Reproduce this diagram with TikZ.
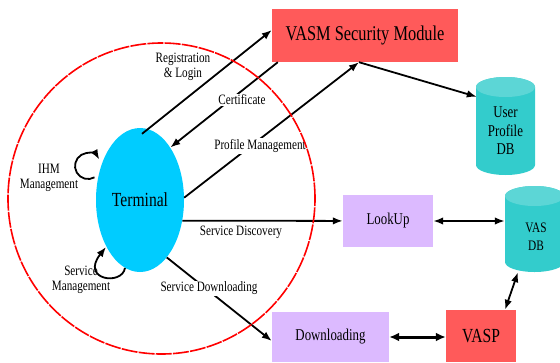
\documentclass[tikz,border=0pt]{standalone}
\usepackage{fontspec}
\setmainfont{Liberation Serif}
\newfontfamily\narrow[FakeStretch=0.78]{Liberation Serif}
\usetikzlibrary{arrows.meta,shapes.geometric,calc}

\definecolor{boxred}{RGB}{255,90,90}
\definecolor{termcyan}{RGB}{0,204,255}
\definecolor{lavender}{RGB}{220,186,255}
\definecolor{dbbody}{RGB}{51,204,204}
\definecolor{dbtop}{RGB}{92,214,214}
\definecolor{zonered}{RGB}{255,0,0}

\begin{document}
\begin{tikzpicture}[x=1pt,y=-1pt,
  tip/.tip={Latex[length=10pt,width=7.5pt]},
  bigtip/.tip={Latex[length=10pt,width=9pt]},
  arr/.style={line width=1.8pt,-tip},
  darr/.style={line width=1.8pt,tip-tip},
  thickdarr/.style={line width=3pt,bigtip-bigtip},
  lbl/.style={font=\narrow\fontsize{14.3}{15.5}\selectfont,align=center,inner sep=1pt},
  cutlbl/.style={lbl,fill=white},
  boxnode/.style={rectangle,inner sep=0pt,align=center},
  anchorbox/.style={rectangle,inner sep=0pt},
  dbtext/.style={align=center,inner sep=0pt}
]
\useasboundingbox (0,0) rectangle (560,362);
\clip (0,0) rectangle (560,362);

% ---- boxes ----
\node[boxnode,fill=boxred,minimum width=186pt,minimum height=53pt,
      font=\narrow\fontsize{21}{23}\selectfont] (vasm) at (365,35.5) {VASM Security Module};
\node[boxnode,fill=lavender,minimum width=90pt,minimum height=52pt,
      font=\narrow\fontsize{16.5}{18}\selectfont] (lookup) at (388,221) {LookUp};
\node[boxnode,fill=lavender,minimum width=117pt,minimum height=50pt,
      font=\narrow\fontsize{16.5}{18}\selectfont] (dl) at (330.5,337) {Downloading};
\node[boxnode,fill=boxred,minimum width=70pt,minimum height=52pt,
      font=\narrow\fontsize{20}{22}\selectfont] (vasp) at (481,336) {VASP};

% ---- terminal ----
\node[ellipse,fill=termcyan,minimum width=88pt,minimum height=144pt,inner sep=0pt,
      font=\narrow\fontsize{20}{22}\selectfont] (term) at (140,200) {Terminal};

% ---- databases (cylinders) ----
% User Profile DB: x 476..535, top 77, bottom 175
\fill[dbbody] (476,87) -- (476,165)
  arc[start angle=180,end angle=360,x radius=29.5pt,y radius=10pt]
  -- (535,87)
  arc[start angle=0,end angle=180,x radius=29.5pt,y radius=10pt] -- cycle;
\fill[dbtop] (505.5,87) ellipse[x radius=29.5pt,y radius=10pt];
\node[anchorbox,minimum width=59pt,minimum height=98pt] (updb) at (505.5,126) {};
\node[dbtext,font=\narrow\fontsize{16.5}{18.5}\selectfont] (updbtext) at (505.5,131) {User\\Profile\\DB};

% VAS DB: x 505..564, top 186, bottom 272
\fill[dbbody] (505,196) -- (505,262)
  arc[start angle=180,end angle=360,x radius=29.5pt,y radius=10pt]
  -- (564,196)
  arc[start angle=0,end angle=180,x radius=29.5pt,y radius=10pt] -- cycle;
\fill[dbtop] (534.5,196) ellipse[x radius=29.5pt,y radius=10pt];
\node[anchorbox,minimum width=59pt,minimum height=86pt] (vasdb) at (534.5,229) {};
\node[dbtext,font=\narrow\fontsize{14.5}{18}\selectfont] (vasdbtext) at (536,237) {VAS\\DB};

% ---- connectors ----
\draw[arr] ($(term.north)+(2,6)$) -- ($(vasm.west)+(0,-5.5)$);
\draw[arr] ($(vasm.south west)+(6,0)$) -- (term.60);
\draw[arr] (term.3) -- ($(vasm.south)+(-6,0)$);
\draw[arr] ($(vasm.south)+(-6,0)$) -- ($(updb.north west)+(1,20)$);
\draw[arr] (term.-26.6) -- (lookup);
\draw[darr] (lookup.east) -- (lookup.east -| vasdb.west);
\draw[darr] ($(vasdb.south)+(-16.5,0)$) -- ($(vasp.north)+(24,0)$);
\draw[thickdarr] (dl.east) -- (dl.east -| vasp.west);
\draw[arr] (term.-65) -- ($(dl.west)+(0,4)$);

% self loops on the terminal
\draw[arr] (94.5,177.3) arc[start angle=-60,end angle=-330,radius=13pt];
\draw[arr] (125,268) .. controls (122,286) and (80,280) .. (106,247);

% ---- labels ----
\node[lbl] (reglbl) at (183,67) {Registration\\\& Login};
\node[cutlbl] (certlbl) at (242,100) {Certificate};
\node[cutlbl] (proflbl) at (260,146) {Profile Management};
\node[lbl] (disclbl) at (241,232) {Service Discovery};
\node[cutlbl] (dllbl) at (209,288) {Service Downloading};
\node[lbl] (ihmlbl) at (49,178) {IHM\\Management};
\node[lbl] (smlbl) at (81,280) {Service\\Management};

% ---- terminal domain ----
\draw[zonered,line width=1.6pt,dash pattern=on 16pt off 1.2pt]
  (161.5,198.5) ellipse[x radius=153.5pt,y radius=155.5pt];
\end{tikzpicture}
\end{document}
